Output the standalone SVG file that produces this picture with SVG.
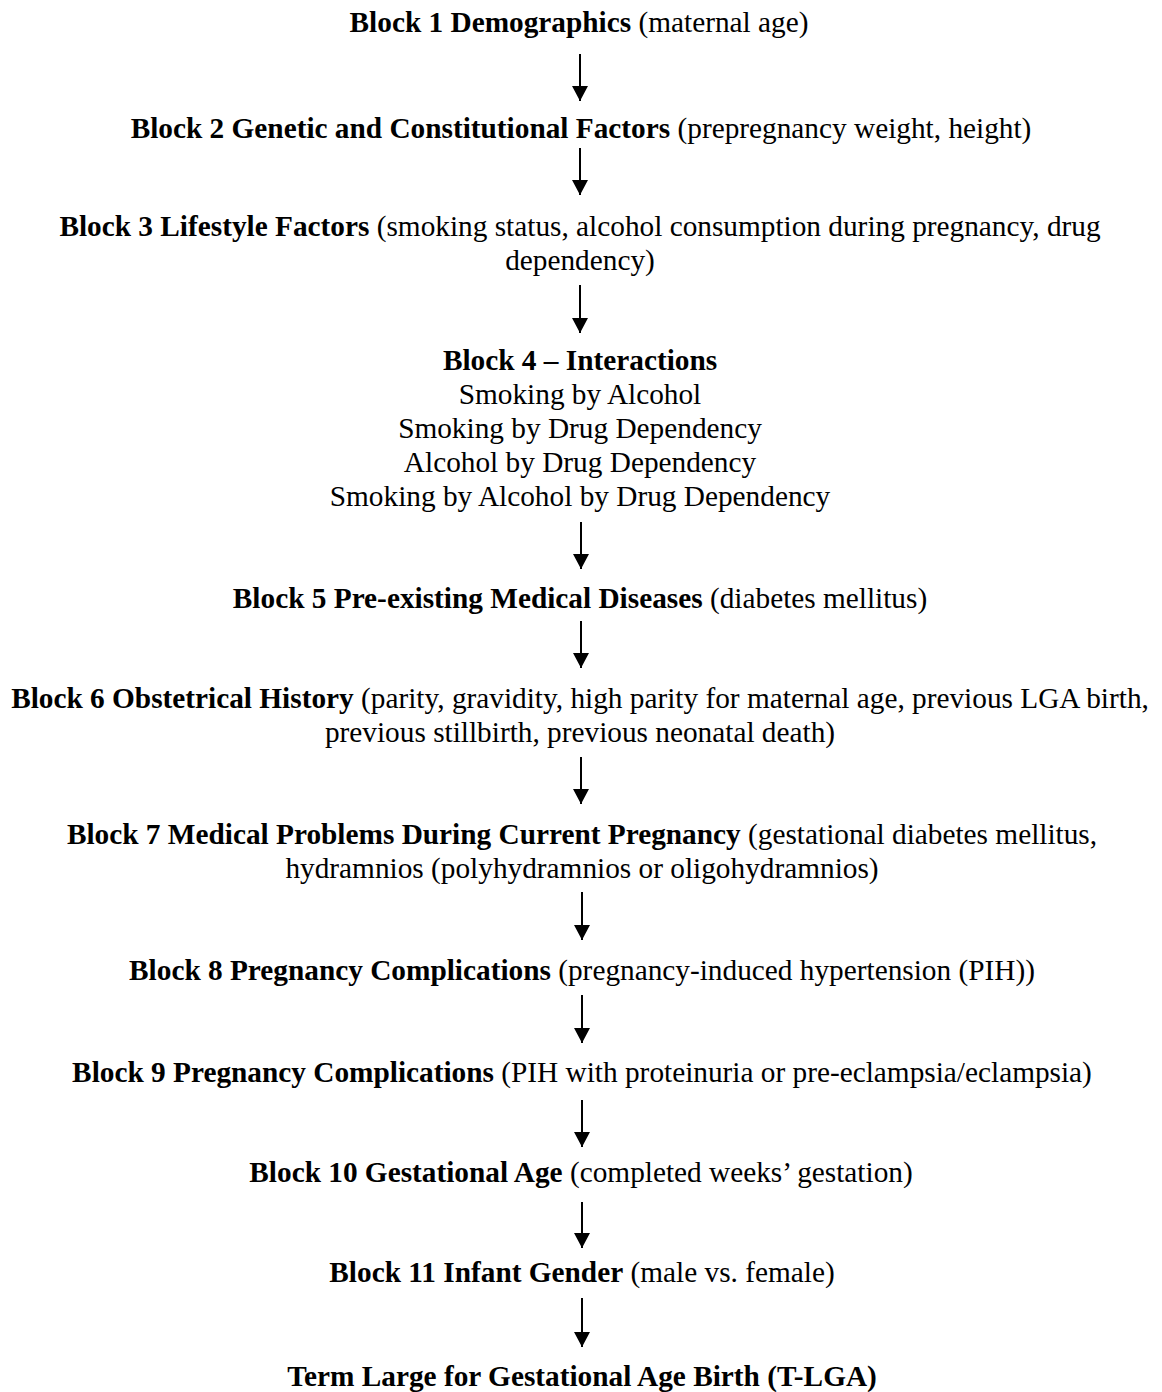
<svg xmlns="http://www.w3.org/2000/svg" width="1162" height="1392" viewBox="0 0 1162 1392">
<style>
text{font-family:"Liberation Serif","Times New Roman",serif;font-size:29.3px;fill:#000;text-anchor:middle}
.b{font-weight:bold}
.c line{stroke:#000;stroke-width:2}
</style>
<defs>
<marker id="ah" markerUnits="userSpaceOnUse" markerWidth="16" markerHeight="16" refX="15" refY="8" orient="auto">
<path d="M0,0 L15,8 L0,16 Z" fill="#000"/>
</marker>
</defs>
<rect width="1162" height="1392" fill="#fff"/>
<g id="connectors" class="c">
<line x1="580" y1="54" x2="580" y2="101" marker-end="url(#ah)"/>
<line x1="580" y1="148" x2="580" y2="195" marker-end="url(#ah)"/>
<line x1="580" y1="285" x2="580" y2="333" marker-end="url(#ah)"/>
<line x1="581" y1="522" x2="581" y2="569" marker-end="url(#ah)"/>
<line x1="581" y1="621" x2="581" y2="668" marker-end="url(#ah)"/>
<line x1="581" y1="757" x2="581" y2="804" marker-end="url(#ah)"/>
<line x1="582" y1="892" x2="582" y2="940" marker-end="url(#ah)"/>
<line x1="582" y1="995" x2="582" y2="1043" marker-end="url(#ah)"/>
<line x1="582" y1="1100" x2="582" y2="1147" marker-end="url(#ah)"/>
<line x1="582" y1="1202" x2="582" y2="1248" marker-end="url(#ah)"/>
<line x1="582" y1="1298" x2="582" y2="1347" marker-end="url(#ah)"/>
</g>
<g id="block1"><text x="579" y="32"><tspan class="b">Block 1 Demographics</tspan> (maternal age)</text></g>
<g id="block2"><text x="581" y="138"><tspan class="b">Block 2 Genetic and Constitutional Factors</tspan> (prepregnancy weight, height)</text></g>
<g id="block3"><text x="580" y="236"><tspan class="b">Block 3 Lifestyle Factors</tspan> (smoking status, alcohol consumption during pregnancy, drug</text>
<text x="580" y="270">dependency)</text></g>
<g id="block4"><text x="580" y="370" class="b">Block 4 – Interactions</text>
<text x="580" y="404">Smoking by Alcohol</text>
<text x="580" y="438">Smoking by Drug Dependency</text>
<text x="580" y="472">Alcohol by Drug Dependency</text>
<text x="580" y="506">Smoking by Alcohol by Drug Dependency</text></g>
<g id="block5"><text x="580" y="608"><tspan class="b">Block 5 Pre-existing Medical Diseases</tspan> (diabetes mellitus)</text></g>
<g id="block6"><text x="580" y="708"><tspan class="b">Block 6 Obstetrical History</tspan> (parity, gravidity, high parity for maternal age, previous LGA birth,</text>
<text x="580" y="742">previous stillbirth, previous neonatal death)</text></g>
<g id="block7"><text x="582" y="844"><tspan class="b">Block 7 Medical Problems During Current Pregnancy</tspan> (gestational diabetes mellitus,</text>
<text x="582" y="878">hydramnios (polyhydramnios or oligohydramnios)</text></g>
<g id="block8"><text x="582" y="980"><tspan class="b">Block 8 Pregnancy Complications</tspan> (pregnancy-induced hypertension (PIH))</text></g>
<g id="block9"><text x="582" y="1082"><tspan class="b">Block 9 Pregnancy Complications</tspan> (PIH with proteinuria or pre-eclampsia/eclampsia)</text></g>
<g id="block10"><text x="581" y="1182"><tspan class="b">Block 10 Gestational Age</tspan> (completed weeks’ gestation)</text></g>
<g id="block11"><text x="582" y="1282"><tspan class="b">Block 11 Infant Gender</tspan> (male vs. female)</text></g>
<g id="outcome"><text x="582" y="1386" class="b">Term Large for Gestational Age Birth (T-LGA)</text></g>
</svg>
